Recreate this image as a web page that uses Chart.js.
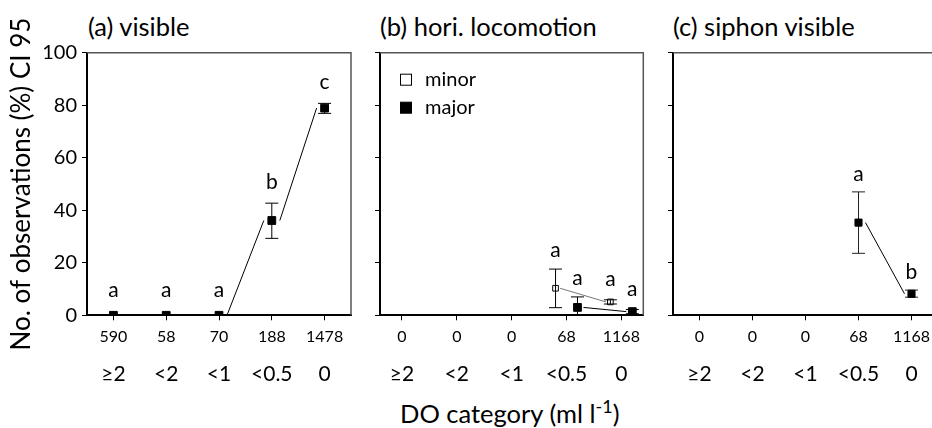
<!DOCTYPE html>
<html>
<head>
<meta charset="utf-8">
<script src="https://cdn.jsdelivr.net/npm/chart.js@4"></script>
<style>
  body { margin: 0; width: 932px; height: 428px; overflow: hidden; background: #fff; position: relative; font-family: Lato, sans-serif; }
  canvas { position: absolute; top: 0; }
  .ttl { position: absolute; font-size: 25.5px; line-height: 26px; color: #000; white-space: nowrap; }
  sup { font-size: 18px; line-height: 0; vertical-align: 10px; }
</style>
</head>
<body>
<div class="ttl" style="left:88px;top:13px">(a) visible</div>
<div class="ttl" style="left:380px;top:13px">(b) hori. locomotion</div>
<div class="ttl" style="left:673px;top:13px">(c) siphon visible</div>
<div class="ttl" style="left:400px;top:400px">DO category (ml l<sup>-1</sup>)</div>

<canvas id="chartA" width="360" height="428" style="left:0"></canvas>
<canvas id="chartB" width="290" height="428" style="left:360px"></canvas>
<canvas id="chartC" width="300" height="428" style="left:650px"></canvas>

<script>
// DO categories and sample sizes
const categories = ['≥2', '<2', '<1', '<0.5', '0'];
const nVisible = [590, 58, 70, 188, 1478];
const nLoco = [0, 0, 0, 68, 1168];
const nSiphon = [0, 0, 0, 68, 1168];
const yTicks = [0, 20, 40, 60, 80, 100];

// (a) visible
const visibleMean = [0, 0, 0, 36.1, 78.9];
const visibleLo = [0, 0, 0, 29.3, 76.9];
const visibleHi = [0, 0, 0, 42.7, 80.7];
const visibleSig = ['a', 'a', 'a', 'b', 'c'];

// (b) horizontal locomotion
const minorMean = [null, null, null, 10.3, 5.1];
const minorLo = [null, null, null, 2.9, 4.3];
const minorHi = [null, null, null, 17.6, 5.9];
const minorSig = [null, null, null, 'a', 'a'];

const majorMean = [null, null, null, 3.0, 1.4];
const majorLo = [null, null, null, 0, 0.6];
const majorHi = [null, null, null, 7.0, 2.2];
const majorSig = [null, null, null, 'a', 'a'];

// (c) siphon visible
const siphonMean = [null, null, null, 35.3, 8.2];
const siphonLo = [null, null, null, 23.6, 6.9];
const siphonHi = [null, null, null, 47.0, 9.6];
const siphonSig = [null, null, null, 'a', 'b'];

function points(mean, lo, hi, sig, shift) {
  const out = [];
  mean.forEach((v, i) => {
    if (v === null) return;
    out.push({ x: i + shift, y: v, lo: lo[i], hi: hi[i], sig: sig[i] });
  });
  return out;
}

// joining lines (with gaps at markers), error bars and letters
const errorBars = {
  id: 'errorBars',
  beforeDatasetsDraw(chart) {
    const ctx = chart.ctx, ys = chart.scales.y;
    chart.data.datasets.forEach((ds, di) => {
      const pts = chart.getDatasetMeta(di).data;
      ctx.save();
      ctx.lineWidth = 1;
      ctx.strokeStyle = ds.joinColor;
      for (let i = 0; i < pts.length - 1; i++) {
        ctx.beginPath();
        ctx.moveTo(pts[i].x + ds.gap, pts[i].y);
        ctx.lineTo(pts[i + 1].x - ds.gap, pts[i + 1].y);
        ctx.stroke();
      }
      ctx.strokeStyle = ds.barColor;
      ds.data.forEach((d, i) => {
        if (d.hi <= d.lo) return;
        const x = pts[i].x;
        const top = ys.getPixelForValue(d.hi), bot = ys.getPixelForValue(d.lo);
        ctx.beginPath();
        ctx.moveTo(x, top); ctx.lineTo(x, bot);
        ctx.moveTo(x - 6.5, top); ctx.lineTo(x + 6.5, top);
        ctx.moveTo(x - 6.5, bot); ctx.lineTo(x + 6.5, bot);
        ctx.stroke();
      });
      ctx.restore();
    });
  },
  afterDatasetsDraw(chart) {
    const ctx = chart.ctx, ys = chart.scales.y;
    const gap = chart.options.plugins.errorBars.letterGap;
    ctx.save();
    ctx.fillStyle = '#000';
    ctx.font = '21px Lato';
    ctx.textAlign = 'center';
    ctx.textBaseline = 'alphabetic';
    chart.data.datasets.forEach((ds, di) => {
      const pts = chart.getDatasetMeta(di).data;
      ds.data.forEach((d, i) => {
        if (!d.sig) return;
        const top = Math.min(ys.getPixelForValue(d.hi), pts[i].y - 4);
        ctx.fillText(d.sig, pts[i].x, top - gap);
      });
    });
    ctx.restore();
  }
};

// grey top and right frame
const frame = {
  id: 'frame',
  afterDraw(chart) {
    const a = chart.chartArea, ctx = chart.ctx;
    ctx.save();
    ctx.strokeStyle = '#555';
    ctx.lineWidth = 1.5;
    ctx.beginPath();
    ctx.moveTo(a.left, a.top);
    ctx.lineTo(a.right, a.top);
    ctx.lineTo(a.right, a.bottom);
    ctx.stroke();
    ctx.restore();
  }
};

// small legend inside panel b
const boxLegend = {
  id: 'boxLegend',
  afterDraw(chart) {
    if (!chart.options.plugins.boxLegend.show) return;
    const a = chart.chartArea, ctx = chart.ctx;
    ctx.save();
    ctx.font = '20px Lato';
    ctx.textBaseline = 'middle';
    chart.data.datasets.forEach((ds, i) => {
      const y = a.top + 27 + i * 28, x = a.left + 20;
      ctx.fillStyle = ds.legendFill;
      ctx.strokeStyle = '#000';
      ctx.lineWidth = 1;
      ctx.fillRect(x + 0.5, y - 5.5, 11, 11);
      ctx.strokeRect(x + 0.5, y - 5.5, 11, 11);
      ctx.fillStyle = '#000';
      ctx.fillText(ds.label, x + 25, y);
    });
    ctx.restore();
  }
};

function makePanel(id, counts, datasets, opts) {
  return new Chart(document.getElementById(id), {
    type: 'scatter',
    data: { datasets: datasets },
    plugins: [errorBars, frame, boxLegend],
    options: {
      responsive: false,
      animation: false,
      layout: { padding: { top: 52.7, right: opts.padRight, left: 0, bottom: 34.7 } },
      plugins: {
        legend: { display: false },
        tooltip: { enabled: false },
        errorBars: { letterGap: opts.letterGap },
        boxLegend: { show: !!opts.legend }
      },
      scales: {
        x: {
          type: 'linear',
          min: opts.xMin, max: opts.xMax,
          afterBuildTicks: s => { s.ticks = categories.map((c, i) => ({ value: i })); },
          afterFit: s => { s.height = 38; },
          grid: { drawOnChartArea: false, tickLength: 5, color: '#000', lineWidth: 1 },
          border: { color: '#000', width: 2 },
          ticks: {
            padding: 7,
            color: '#000',
            font: { family: 'Lato', size: 16 },
            callback: (v, i) => counts[i]
          }
        },
        x2: {
          type: 'linear',
          position: 'bottom',
          min: opts.xMin, max: opts.xMax,
          afterBuildTicks: s => { s.ticks = categories.map((c, i) => ({ value: i })); },
          afterFit: s => { s.height = 40; },
          grid: { display: false, drawTicks: false, tickLength: 0 },
          border: { display: false },
          ticks: {
            padding: 8,
            color: '#000',
            font: { family: 'Lato', size: 21 },
            callback: (v, i) => categories[i]
          }
        },
        y: {
          min: 0, max: 100,
          afterBuildTicks: s => { s.ticks = yTicks.map(v => ({ value: v })); },
          afterFit: s => { s.width = opts.yWidth; },
          grid: { drawOnChartArea: false, tickLength: 5, color: '#000', lineWidth: 1 },
          border: { color: '#000', width: 2 },
          ticks: {
            display: !!opts.yLabels,
            padding: 5,
            color: '#000',
            font: { family: 'Lato', size: 20 }
          },
          title: {
            display: !!opts.yLabels,
            text: 'No. of observations (%) CI 95',
            color: '#000',
            font: { family: 'Lato', size: 26 },
            padding: { top: 6, bottom: 0 }
          }
        }
      }
    }
  });
}

makePanel('chartA', nVisible, [{
  label: 'visible',
  data: points(visibleMean, visibleLo, visibleHi, visibleSig, 0),
  pointStyle: 'rect', pointRadius: 5.5, borderWidth: 1,
  backgroundColor: '#000', borderColor: '#000',
  joinColor: '#000', barColor: '#000', gap: 8
}], { xMin: -0.5, xMax: 4.5, yWidth: 87, padRight: 9, letterGap: 14.5, yLabels: true });

makePanel('chartB', nLoco, [{
  label: 'minor',
  data: points(minorMean, minorLo, minorHi, minorSig, -0.2),
  pointStyle: 'rect', pointRadius: 4, borderWidth: 1,
  backgroundColor: 'rgba(255,255,255,0)', borderColor: '#000',
  legendFill: '#fff', joinColor: '#777', barColor: '#000', gap: 4.5
}, {
  label: 'major',
  data: points(majorMean, majorLo, majorHi, majorSig, 0.2),
  pointStyle: 'rect', pointRadius: 5.5, borderWidth: 1,
  backgroundColor: '#000', borderColor: '#000',
  legendFill: '#000', joinColor: '#000', barColor: '#000', gap: 6
}], { xMin: -0.4, xMax: 4.4, yWidth: 20, padRight: 6.7, letterGap: 12, legend: true });

makePanel('chartC', nSiphon, [{
  label: 'siphon visible',
  data: points(siphonMean, siphonLo, siphonHi, siphonSig, 0),
  pointStyle: 'rect', pointRadius: 5, borderWidth: 1,
  backgroundColor: '#000', borderColor: '#000',
  joinColor: '#000', barColor: '#222', gap: 7
}], { xMin: -0.5, xMax: 4.5, yWidth: 23, padRight: 12, letterGap: 10.5 });
</script>
</body>
</html>
